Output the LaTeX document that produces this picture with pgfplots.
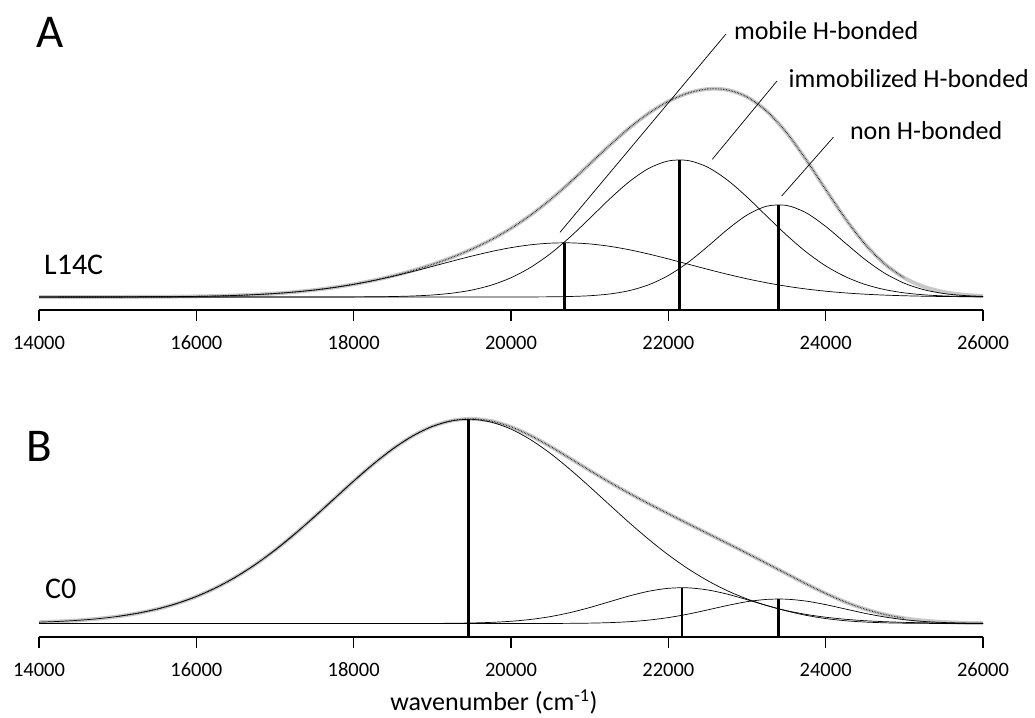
\documentclass[border=0pt]{standalone}
\usepackage{fontspec}
\setmainfont{Carlito}
\usepackage{pgfplots}
\pgfplotsset{compat=1.18}
\definecolor{fitgray}{RGB}{200,200,200}
\pgfplotsset{
  panel/.style={scale only axis, width=944pt, xmin=14000, xmax=26000, ymax=240,
    axis x line=bottom, axis y line=none, x axis line style={-, line width=1.2pt},
    scaled x ticks=false,
    xtick={14000,16000,18000,20000,22000,24000,26000},
    xticklabels={14000,16000,18000,20000,22000,24000,26000},
    tick align=outside, major tick length=10.7pt,
    xtick style={line width=1.2pt, black},
    xticklabel style={font=\fontsize{20.5}{24}\selectfont, anchor=base, yshift=-28.5pt},
    clip=false, anchor=south west},
  comp/.style={black, line width=0.7pt, smooth, no marks},
  fit/.style={color=fitgray, line width=3.8pt, smooth, no marks},
  dat/.style={black, line width=1.1pt, dash pattern=on 0.5pt off 1.1pt, smooth, no marks},
  vline/.style={black, line width=2.3pt, no marks},
}
\begin{document}
\begin{tikzpicture}[x=1pt,y=1pt]
\path[use as bounding box] (0,0) rectangle (1035,717);
% ---------------- Panel A ----------------
\begin{axis}[panel, at={(39pt,407pt)}, ymin=-13, height=253pt]
\addplot[fit] coordinates {(14000,0.01) (14250,0.01) (14500,0.02) (14750,0.04) (15000,0.08) (15250,0.14) (15500,0.23) (15750,0.39) (16000,0.64) (16250,1.01) (16500,1.57) (16750,2.36) (17000,3.48) (17250,4.99) (17500,6.98) (17750,9.54) (18000,12.72) (18250,16.57) (18500,21.14) (18750,26.46) (19000,32.57) (19250,39.62) (19500,47.78) (19750,57.34) (20000,68.64) (20250,81.94) (20500,97.33) (20750,114.58) (21000,132.96) (21250,151.41) (21500,168.70) (21750,183.70) (22000,195.60) (22250,203.88) (22500,208.00) (22750,207.13) (23000,200.05) (23250,185.88) (23500,164.52) (23750,137.44) (24000,107.54) (24250,78.38) (24500,52.95) (24750,33.08) (25000,19.10) (25250,10.19) (25500,5.06) (25750,2.32) (26000,1.01)};
% mobile H-bonded
\addplot[comp] coordinates {(14000,0.01) (14250,0.01) (14500,0.02) (14750,0.04) (15000,0.08) (15250,0.14) (15500,0.23) (15750,0.39) (16000,0.64) (16250,1.01) (16500,1.57) (16750,2.36) (17000,3.48) (17250,4.99) (17500,6.97) (17750,9.50) (18000,12.63) (18250,16.36) (18500,20.67) (18750,25.46) (19000,30.57) (19250,35.80) (19500,40.87) (19750,45.48) (20000,49.35) (20250,52.21) (20500,53.84) (20750,54.15) (21000,53.09) (21250,50.74) (21500,47.29) (21750,42.97) (22000,38.06) (22250,32.87) (22500,27.68) (22750,22.73) (23000,18.19) (23250,14.20) (23500,10.80) (23750,8.01) (24000,5.79) (24250,4.09) (24500,2.81) (24750,1.88) (25000,1.23) (25250,0.78) (25500,0.49) (25750,0.29) (26000,0.17)};
% immobilized H-bonded
\addplot[comp] coordinates {(14000,0) (17000,0) (17500,0.01) (17750,0.04) (18000,0.09) (18250,0.21) (18500,0.47) (18750,1.00) (19000,2.00) (19250,3.82) (19500,6.91) (19750,11.86) (20000,19.27) (20250,29.67) (20500,43.31) (20750,59.93) (21000,78.60) (21250,97.70) (21500,115.11) (21750,128.54) (22000,136.05) (22250,136.49) (22500,129.79) (22750,116.98) (23000,99.92) (23250,80.91) (23500,62.10) (23750,45.17) (24000,31.13) (24250,20.35) (24500,12.60) (24750,7.40) (25000,4.12) (25250,2.17) (25500,1.09) (25750,0.51) (26000,0.23)};
% non H-bonded
\addplot[comp] coordinates {(14000,0) (19500,0) (20000,0.02) (20250,0.06) (20500,0.18) (20750,0.50) (21000,1.27) (21250,2.97) (21500,6.30) (21750,12.19) (22000,21.49) (22250,34.52) (22500,50.53) (22750,67.42) (23000,81.94) (23250,90.77) (23500,91.62) (23750,84.26) (24000,70.62) (24250,53.94) (24500,37.54) (24750,23.80) (25000,13.75) (25250,7.24) (25500,3.48) (25750,1.52) (26000,0.61)};
% measured data
\addplot[dat] coordinates {(14250,0.01) (14500,0.02) (14750,0.04) (15000,0.08) (15250,0.14) (15500,0.23) (15750,0.39) (16000,0.64) (16250,1.01) (16500,1.57) (16750,2.36) (17000,3.48) (17250,4.99) (17500,6.98) (17750,9.54) (18000,12.72) (18250,16.57) (18500,21.14) (18750,26.46) (19000,32.57) (19250,39.62) (19500,47.78) (19750,57.34) (20000,68.64) (20250,81.94) (20500,97.33) (20750,114.58) (21000,132.96) (21250,151.41) (21500,168.70) (21750,183.70) (22000,195.60) (22250,203.88) (22500,208.00) (22750,207.13) (23000,200.05) (23250,185.88) (23500,164.52) (23750,137.44) (24000,107.54) (24250,78.38) (24500,52.95) (24750,33.08) (25000,19.10)};
\addplot[vline] coordinates {(20680,-13) (20680,54.2)};
\addplot[vline] coordinates {(22140,-13) (22140,137.2)};
\addplot[vline] coordinates {(23400,-13) (23400,92.3)};
\end{axis}
% ---------------- Panel B ----------------
\begin{axis}[panel, at={(39pt,80pt)}, ymin=-13.5, height=253.5pt]
\addplot[fit] coordinates {(14000,1.32) (14250,2.08) (14500,3.19) (14750,4.81) (15000,7.08) (15250,10.21) (15500,14.42) (15750,19.94) (16000,27.00) (16250,35.80) (16500,46.46) (16750,59.01) (17000,73.43) (17250,89.44) (17500,106.67) (17750,124.56) (18000,142.43) (18250,159.44) (18500,174.75) (18750,187.52) (19000,197.12) (19250,202.91) (19500,204.67) (19750,202.45) (20000,196.60) (20250,187.82) (20500,177.02) (20750,165.16) (21000,153.09) (21250,141.39) (21500,130.30) (21750,119.83) (22000,109.73) (22250,99.83) (22500,90.02) (22750,80.15) (23000,70.21) (23250,60.09) (23500,49.85) (23750,39.71) (24000,30.09) (24250,21.51) (24500,14.42) (24750,9.03) (25000,5.28) (25250,2.88) (25500,1.48) (25750,0.70) (26000,0.33)};
\addplot[comp] coordinates {(14000,1.32) (14250,2.08) (14500,3.19) (14750,4.81) (15000,7.08) (15250,10.21) (15500,14.42) (15750,19.94) (16000,27.00) (16250,35.80) (16500,46.46) (16750,59.01) (17000,73.43) (17250,89.44) (17500,106.67) (17750,124.56) (18000,142.43) (18250,159.44) (18500,174.75) (18750,187.52) (19000,197.03) (19250,202.68) (19500,204.14) (19750,201.32) (20000,194.38) (20250,183.76) (20500,170.08) (20750,154.13) (21000,136.77) (21250,118.82) (21500,101.06) (21750,84.17) (22000,68.63) (22250,54.79) (22500,42.84) (22750,32.77) (23000,24.57) (23250,18.02) (23500,12.94) (23750,9.10) (24000,6.27) (24250,4.23) (24500,2.79) (24750,1.80) (25000,1.14) (25250,0.71) (25500,0.43) (25750,0.25) (26000,0.15)};
\addplot[comp] coordinates {(14000,0) (18500,0) (19000,0.09) (19250,0.23) (19500,0.53) (19750,1.13) (20000,2.22) (20250,4.06) (20500,6.89) (20750,10.88) (21000,15.95) (21250,21.71) (21500,27.46) (21750,32.26) (22000,35.19) (22250,35.66) (22500,33.57) (22750,29.35) (23000,23.83) (23250,17.97) (23500,12.59) (23750,8.19) (24000,4.95) (24250,2.78) (24500,1.45) (24750,0.70) (25000,0.32) (25250,0.13) (25500,0.05) (26000,0)};
\addplot[comp] coordinates {(14000,0) (20000,0) (20500,0.05) (20750,0.15) (21000,0.37) (21250,0.86) (21500,1.78) (21750,3.40) (22000,5.91) (22250,9.38) (22500,13.61) (22750,18.03) (23000,21.81) (23250,24.10) (23500,24.32) (23750,22.42) (24000,18.87) (24250,14.50) (24500,10.18) (24750,6.53) (25000,3.82) (25250,2.04) (25500,1.00) (25750,0.45) (26000,0.18)};
\addplot[dat] coordinates {(15000,7.08) (15250,10.21) (15500,14.42) (15750,19.94) (16000,27.00) (16250,35.80) (16500,46.46) (16750,59.01) (17000,73.43) (17250,89.44) (17500,106.67) (17750,124.56) (18000,142.43) (18250,159.44) (18500,174.75) (18750,187.52) (19000,197.12) (19250,202.91) (19500,204.67) (19750,202.45) (20000,196.60) (20250,187.82) (20500,177.02) (20750,165.16) (21000,153.09) (21250,141.39) (21500,130.30) (21750,119.83) (22000,109.73) (22250,99.83) (22500,90.02) (22750,80.15) (23000,70.21) (23250,60.09) (23500,49.85) (23750,39.71) (24000,30.09) (24250,21.51) (24500,14.42) (24750,9.03) (25000,5.28)};
\addplot[vline] coordinates {(19460,-13.5) (19460,204.2)};
\addplot[vline] coordinates {(22170,-13.5) (22170,35.8)};
\addplot[vline] coordinates {(23400,-13.5) (23400,24.5)};
\end{axis}
% ---------------- Labels ----------------
\node[font=\fontsize{47}{50}\selectfont] at (50,685) {A};
\node[font=\fontsize{47}{50}\selectfont] at (39,271) {B};
\node[font=\fontsize{30}{34}\selectfont, anchor=west, inner sep=0pt] at (44,452) {L14C};
\node[font=\fontsize{30}{34}\selectfont, anchor=west, inner sep=0pt] at (45,128) {C0};
\node[font=\fontsize{26}{30}\selectfont, anchor=west, inner sep=0pt] at (733.8,686) {mobile H-bonded};
\node[font=\fontsize{26}{30}\selectfont, anchor=west, inner sep=0pt] at (788.4,638) {immobilized H-bonded};
\node[font=\fontsize{26}{30}\selectfont, anchor=west, inner sep=0pt] at (849.8,586.5) {non H-bonded};
\draw[line width=0.7pt] (560,484.7) -- (726,683);
\draw[line width=0.7pt] (712.3,557.7) -- (777,636);
\draw[line width=0.7pt] (781.7,521) -- (833.3,579.7);
\node[font=\fontsize{26}{30}\selectfont, anchor=base] at (494,6.5) {wavenumber (cm\textsuperscript{-1})};
\end{tikzpicture}
\end{document}
